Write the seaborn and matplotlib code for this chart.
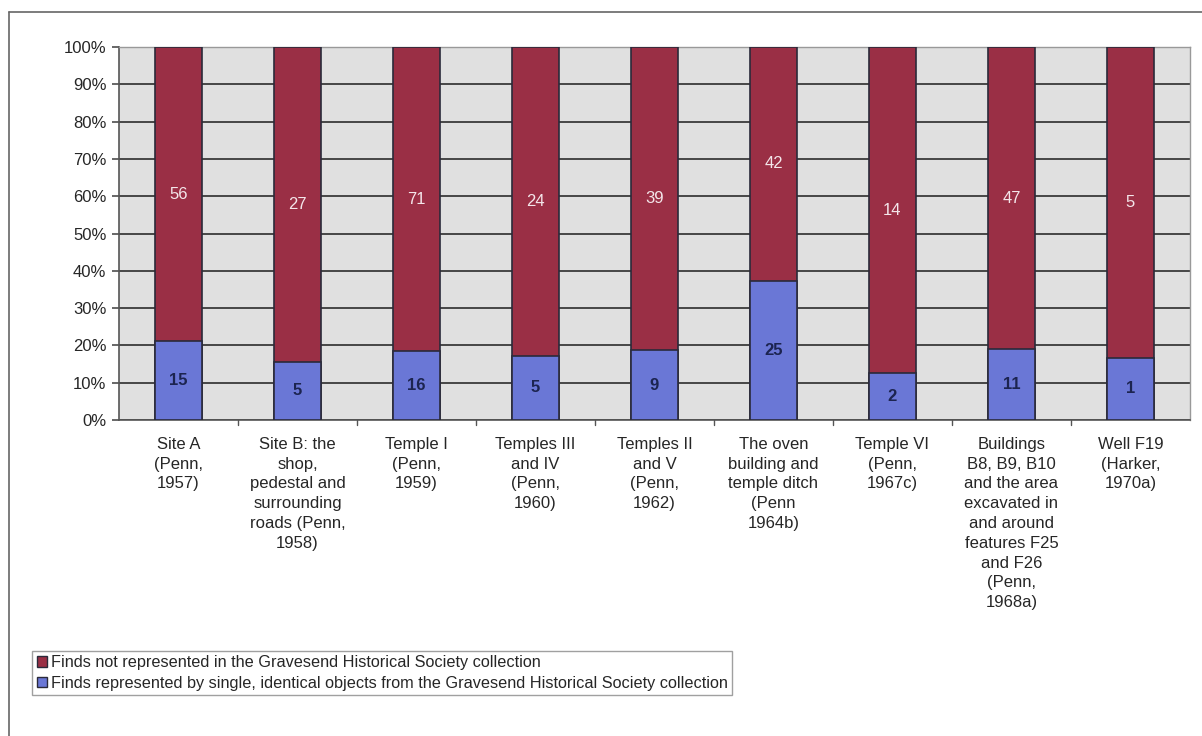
import pandas as pd
import matplotlib.pyplot as plt
import seaborn as sns
import numpy as np
from matplotlib.patches import Patch
from matplotlib.lines import Line2D

sites = ['Site A\n(Penn,\n1957)',
         'Site B: the\nshop,\npedestal and\nsurrounding\nroads (Penn,\n1958)',
         'Temple I\n(Penn,\n1959)',
         'Temples III\nand IV\n(Penn,\n1960)',
         'Temples II\nand V\n(Penn,\n1962)',
         'The oven\nbuilding and\ntemple ditch\n(Penn\n1964b)',
         'Temple VI\n(Penn,\n1967c)',
         'Buildings\nB8, B9, B10\nand the area\nexcavated in\nand around\nfeatures F25\nand F26\n(Penn,\n1968a)',
         'Well F19\n(Harker,\n1970a)']
represented = [15, 5, 16, 5, 9, 25, 2, 11, 1]
not_represented = [56, 27, 71, 24, 39, 42, 14, 47, 5]

legend_labels = ['Finds not represented in the Gravesend Historical Society collection',
                 'Finds represented by single, identical objects from the Gravesend Historical Society collection']

df = pd.DataFrame({'site': sites, 'rep': represented, 'notrep': not_represented})
df['total'] = df['rep'] + df['notrep']
df['rep_pct'] = df['rep'] / df['total'] * 100
df['top_pct'] = 100.0

sns.set_theme(style="white")
plt.rcParams['font.family'] = ['Liberation Sans', 'DejaVu Sans']

red = '#9a2f45'
blue = '#6a77d6'
edge = '#2a2a3a'

fig = plt.figure(figsize=(12.02, 7.36), dpi=100)
ax = fig.add_axes([0.099, 0.4293, 0.891, 0.5067])
ax.set_facecolor('#e0e0e0')

sns.barplot(data=df, x='site', y='top_pct', color=red, width=0.40,
            edgecolor=edge, linewidth=1.2, saturation=1, ax=ax, zorder=3)
sns.barplot(data=df, x='site', y='rep_pct', color=blue, width=0.40,
            edgecolor=edge, linewidth=1.2, saturation=1, ax=ax, zorder=3)

for i, row in df.iterrows():
    ax.text(i, (row['rep_pct'] + 100) / 2, str(row['notrep']), ha='center', va='center',
            color='#f4e6ea', fontsize=12, zorder=4)
    ax.text(i, row['rep_pct'] / 2, str(row['rep']), ha='center', va='center',
            color='#1c2450', fontsize=12, fontweight='bold', zorder=4)

ax.set_ylim(0, 100)
ax.set_xlim(-0.5, len(sites) - 0.5)
ax.set_yticks(np.arange(0, 101, 10))
ax.set_yticklabels([f'{v}%' for v in range(0, 101, 10)], fontsize=12)
ax.yaxis.grid(True, color='#3a3a3a', linewidth=1.3, zorder=1)
ax.set_axisbelow(True)
ax.tick_params(axis='y', left=True, length=5, color='#555555', pad=4)
ax.tick_params(axis='x', bottom=False, pad=6)
ax.set_xticklabels(sites, fontsize=12, linespacing=1.4, va='top')
ax.set_xlabel('')
ax.set_ylabel('')
for x in np.arange(0.5, len(sites) - 0.5, 1):
    ax.plot([x, x], [0, -1.2], color='#555555', lw=1, clip_on=False)

for s in ['left', 'bottom']:
    ax.spines[s].set_color('#555555')
    ax.spines[s].set_linewidth(1.2)
for s in ['right', 'top']:
    ax.spines[s].set_color('#999999')
    ax.spines[s].set_linewidth(1.0)

handles = [Patch(facecolor=red, edgecolor=edge, label=legend_labels[0]),
           Patch(facecolor=blue, edgecolor=edge, label=legend_labels[1])]
leg = fig.legend(handles=handles, loc='upper left', bbox_to_anchor=(0.027, 1 - 651 / 736),
                 bbox_transform=fig.transFigure,
                 fontsize=11.7, frameon=True, fancybox=False, handlelength=0.65, handleheight=0.65,
                 handletextpad=0.25, borderpad=0.25, labelspacing=0.35, borderaxespad=0)
leg.get_frame().set_edgecolor('#888888')
leg.get_frame().set_linewidth(1)

# outer chart frame
fig.add_artist(Line2D([9 / 1202, 9 / 1202], [0, 1 - 12 / 736], transform=fig.transFigure, color='#666666', lw=1.2))
fig.add_artist(Line2D([9 / 1202, 1], [1 - 12 / 736, 1 - 12 / 736], transform=fig.transFigure, color='#666666', lw=1.2))

fig.savefig('out.png', dpi=100)
